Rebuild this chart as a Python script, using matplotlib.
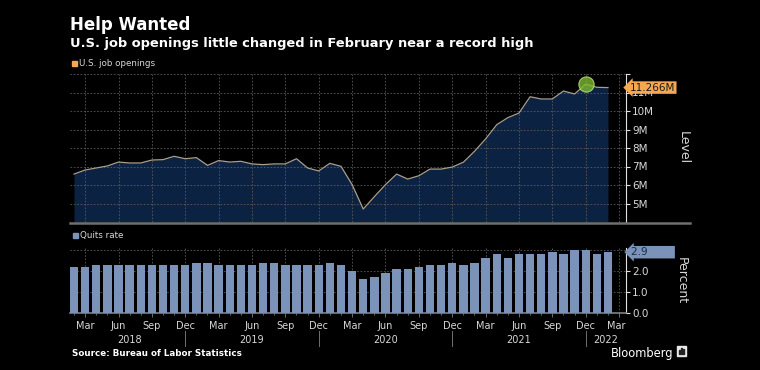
import numpy as np
import pandas as pd
import matplotlib
matplotlib.use("Agg")
from matplotlib import pyplot as plt
from matplotlib.lines import Line2D
from matplotlib.patches import Rectangle
import matplotlib.transforms as mtransforms

# monthly data, Feb 2018 .. Feb 2022
months = pd.period_range("2018-02", "2022-02", freq="M")
job_openings = [6.59, 6.81, 6.92, 7.03, 7.24, 7.19, 7.19, 7.35, 7.37, 7.55, 7.42,
                7.48, 7.06, 7.32, 7.24, 7.28, 7.14, 7.10, 7.14, 7.14, 7.42, 6.92, 6.76,
                7.17, 7.01, 6.02, 4.70, 5.37, 6.02, 6.59, 6.32, 6.50, 6.86, 6.86, 6.97,
                7.23, 7.82, 8.49, 9.26, 9.64, 9.89, 10.77, 10.65, 10.65, 11.08, 10.92, 11.45,
                11.28, 11.266]
quits_rate = [2.2, 2.2, 2.3, 2.3, 2.3, 2.3, 2.3, 2.3, 2.3, 2.3, 2.3,
              2.4, 2.4, 2.3, 2.3, 2.3, 2.3, 2.4, 2.4, 2.3, 2.3, 2.3, 2.3,
              2.4, 2.3, 2.0, 1.6, 1.7, 1.9, 2.1, 2.1, 2.2, 2.3, 2.3, 2.4,
              2.3, 2.4, 2.6, 2.8, 2.6, 2.8, 2.8, 2.8, 2.9, 2.8, 3.0, 3.0,
              2.8, 2.9]
level_ticks = [5, 6, 7, 8, 9, 10, 11, 12]
level_labels = ["5M", "6M", "7M", "8M", "9M", "10M", "11M", ""]
pct_ticks = [0, 1, 2, 3]
pct_labels = ["0.0", "1.0", "2.0", ""]
quarter_names = ["Mar", "Jun", "Sep", "Dec"]
year_names = ["2018", "2019", "2020", "2021", "2022"]

BG = "black"
FILL = "#0b2242"
LINE = "#a99f8b"
ORANGE = "#f5a850"
BAR = "#7b93b9"
GRID = "#5a5a5a"
TXT = "#d8d8d8"

x = np.arange(len(months))
# quarter months (Mar/Jun/Sep/Dec) positions
qpos = [i for i, m in enumerate(months) if m.month in (3, 6, 9, 12)] + [len(months)]
qlab = [quarter_names[(m.month // 3) - 1] for m in months if m.month in (3, 6, 9, 12)] + ["Mar"]
dec_pos = [i for i, m in enumerate(months) if m.month == 12]
year_mid = []
edges = [-0.36] + dec_pos + [49.6]
for a, b in zip(edges[:-1], edges[1:]):
    year_mid.append((a + b) / 2)
year_mid[0] = 5

fig = plt.figure(figsize=(7.6, 3.7), dpi=100, facecolor=BG)
W, H = 760, 370
def box(l, t, r, b):
    return [l / W, 1 - b / H, (r - l) / W, (b - t) / H]

xlim = (-0.36, 49.62)

# ---- top panel: job openings
ax1 = fig.add_axes(box(70, 74, 626, 222), facecolor=BG)
ax1.fill_between(x, job_openings, 4, color=FILL, lw=0, zorder=1)
ax1.plot(x, job_openings, color=LINE, lw=0.9, zorder=3)
imax = int(np.argmax(job_openings))
ax1.plot(x[imax], job_openings[imax], "o", ms=11, mfc="#7cb92e", mec="#c4e87a", mew=0.8, alpha=0.8, zorder=4)
ax1.set_xlim(*xlim)
ax1.set_ylim(4, 12)
for q in qpos:
    ax1.axvline(q, color=GRID, lw=0.6, ls=(0, (2, 2)), zorder=2)
for t in level_ticks:
    ax1.axhline(t, color=GRID, lw=0.6, ls=(0, (2, 2)), zorder=2)

# ---- bottom panel: quits rate
ax2 = fig.add_axes(box(70, 248, 626, 313), facecolor=BG)
ax2.bar(x, quits_rate, width=0.76, color=BAR, zorder=3)
ax2.set_xlim(*xlim)
ax2.set_ylim(0, 3.1)
for q in qpos:
    ax2.axvline(q, color=GRID, lw=0.6, ls=(0, (2, 2)), zorder=1)
for t in pct_ticks[1:]:
    ax2.axhline(t, color=GRID, lw=0.6, ls=(0, (2, 2)), zorder=1)

for ax, ticks, labels in ((ax1, level_ticks, level_labels), (ax2, pct_ticks, pct_labels)):
    for s in ("left", "top", "bottom"):
        ax.spines[s].set_visible(False)
    ax.spines["right"].set_color("#e0e0e0")
    ax.spines["right"].set_linewidth(0.8)
    ax.yaxis.tick_right()
    ax.set_yticks(ticks)
    ax.set_yticklabels(labels)
    ax.tick_params(axis="y", colors="#e0e0e0", labelcolor=TXT, labelsize=7.5,
                   length=3, width=0.8, pad=1.5)
    ax.set_xticks([])

ax2.spines["bottom"].set_visible(True)
ax2.spines["bottom"].set_color("#808080")
ax2.spines["bottom"].set_linewidth(1.2)
ax2.set_xticks(qpos)
ax2.set_xticks(x, minor=True)
ax2.set_xticklabels([])
ax2.tick_params(axis="x", which="both", colors="#808080", length=3, width=0.6)
ax2.tick_params(axis="x", which="minor", length=1.5)

trans = mtransforms.blended_transform_factory(ax2.transData, ax2.transAxes)
for q, lab in zip(qpos, qlab):
    xx = q if q < 49 else 48.7
    ax2.text(xx, -0.2, lab, transform=trans, ha="center", va="center", color=TXT, fontsize=7)
for xm, yl in zip(year_mid, year_names):
    ax2.text(xm, -0.41, yl, transform=trans, ha="center", va="center", color=TXT, fontsize=7)
for d in dec_pos:
    ax2.add_line(Line2D([d, d], [-0.28, -0.5], transform=trans, color="#707070", lw=0.7, clip_on=False))

# separator under the top panel
fig.add_artist(Line2D([70 / W, 690 / W], [1 - 222.5 / H] * 2, color="#6f6f6f", lw=1.8))

# last value callouts
ax1.text(1.007, (job_openings[-1] - 4) / 8, "11.266M", transform=ax1.transAxes, ha="left", va="center",
         fontsize=7.5, color="#1a1a1a", zorder=10,
         bbox=dict(boxstyle="larrow,pad=0.12", fc=ORANGE, ec="none"))
ax2.text(1.009, quits_rate[-1] / 3.1, "2.9        ", transform=ax2.transAxes, ha="left", va="center",
         fontsize=7.5, color="#1b2a44",
         bbox=dict(boxstyle="larrow,pad=0.12", fc=BAR, ec="none"))

# axis titles
fig.text(683 / W, 1 - 148 / H, "Level", rotation=270, ha="center", va="center", color=TXT, fontsize=9)
fig.text(681 / W, 1 - 281 / H, "Percent", rotation=270, ha="center", va="center", color=TXT, fontsize=9)

# legends
fig.add_artist(Rectangle((72 / W, 1 - 66 / H), 5 / W, 5 / H, color=ORANGE, transform=fig.transFigure))
fig.text(79 / W, 1 - 63.5 / H, "U.S. job openings", color=TXT, fontsize=6.3, va="center")
fig.add_artist(Rectangle((73 / W, 1 - 238 / H), 5 / W, 5 / H, color=BAR, transform=fig.transFigure))
fig.text(80 / W, 1 - 235.5 / H, "Quits rate", color=TXT, fontsize=6.3, va="center")

# titles
fig.text(70 / W, 1 - 30 / H, "Help Wanted", color="white", fontsize=12, fontweight="bold", va="baseline")
fig.text(70 / W, 1 - 46.5 / H, "U.S. job openings little changed in February near a record high",
         color="white", fontsize=9.4, fontweight="bold", va="baseline")
fig.text(72 / W, 1 - 356 / H, "Source: Bureau of Labor Statistics", color="white", fontsize=6.3,
         fontweight="bold", va="baseline")
fig.text(673 / W, 1 - 357 / H, "Bloomberg", color="white", fontsize=8.3, ha="right", va="baseline")
fig.add_artist(Rectangle((677 / W, 1 - 356 / H), 9 / W, 10 / H, color="#e8e8e8", transform=fig.transFigure))
for bx, bh in ((679, 4), (681, 6), (683, 5)):
    fig.add_artist(Rectangle((bx / W, 1 - 354 / H), 1.2 / W, bh / H, color="#222222", transform=fig.transFigure))

fig.savefig("out.png", dpi=100, facecolor=BG)
